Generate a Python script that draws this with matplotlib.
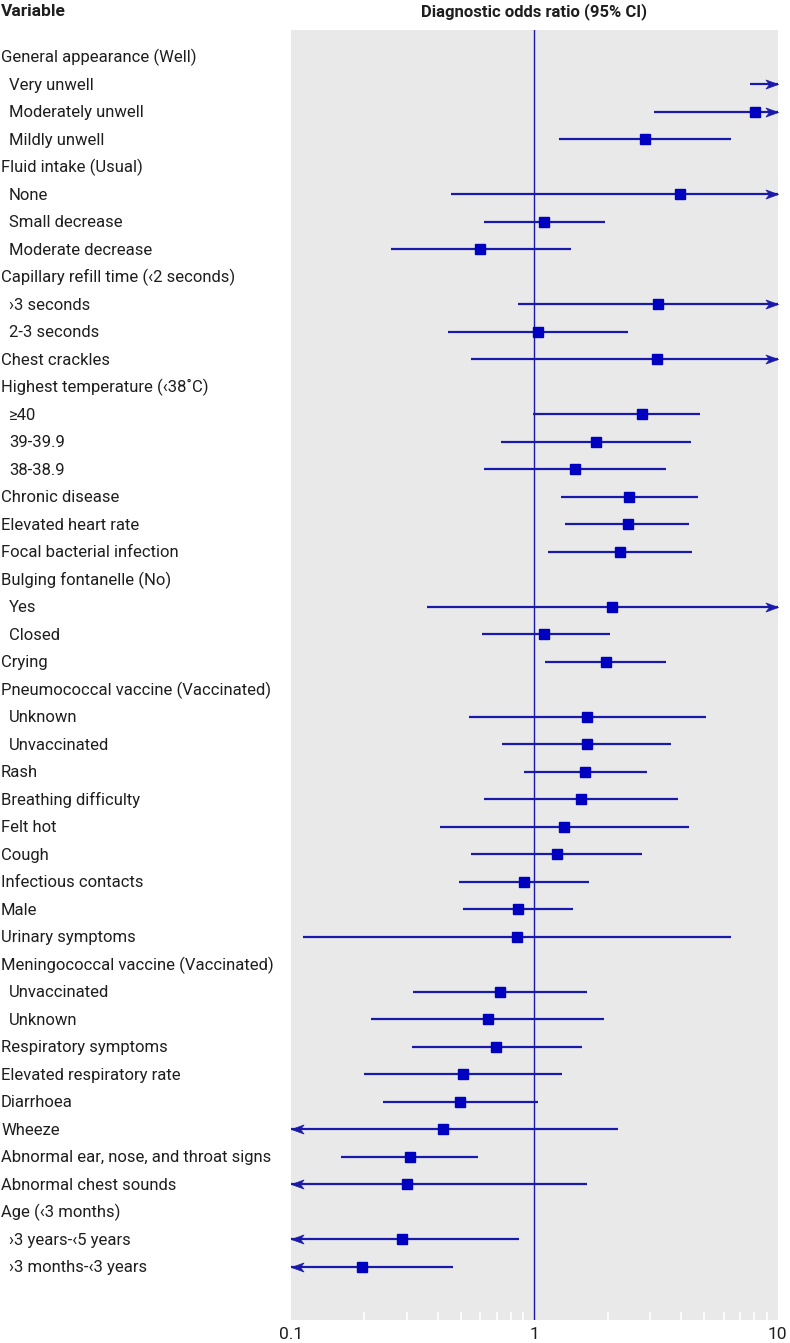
import numpy as np
import matplotlib
matplotlib.use("Agg")
from matplotlib import pyplot as plt
from matplotlib.path import Path
from matplotlib.transforms import blended_transform_factory

plt.rcParams['font.family'] = ['Roboto', 'DejaVu Sans']

# variable labels (leading spaces = sub level)
etiquetas = [
    "General appearance (Well)", " Very unwell", " Moderately unwell", " Mildly unwell",
    "Fluid intake (Usual)", " None", " Small decrease", " Moderate decrease",
    "Capillary refill time (‹2 seconds)", " ›3 seconds", " 2-3 seconds",
    "Chest crackles",
    "Highest temperature (‹38˚C)", " ≥40", " 39-39.9", " 38-38.9",
    "Chronic disease", "Elevated heart rate", "Focal bacterial infection",
    "Bulging fontanelle (No)", " Yes", " Closed",
    "Crying",
    "Pneumococcal vaccine (Vaccinated)", " Unknown", " Unvaccinated",
    "Rash", "Breathing difficulty", "Felt hot", "Cough", "Infectious contacts",
    "Male", "Urinary symptoms",
    "Meningococcal vaccine (Vaccinated)", " Unvaccinated", " Unknown",
    "Respiratory symptoms", "Elevated respiratory rate", "Diarrhoea", "Wheeze",
    "Abnormal ear, nose, and throat signs", "Abnormal chest sounds",
    "Age (‹3 months)", " ›3 years-‹5 years", " ›3 months-‹3 years",
]

nan = np.nan
# diagnostic odds ratio, lower and upper 95% CI (nan = header row)
odds = [nan, 15.0, 8.07, 2.85,
        nan, 3.98, 1.10, 0.60,
        nan, 3.21, 1.035,
        3.20,
        nan, 2.77, 1.79, 1.47,
        2.46, 2.42, 2.24,
        nan, 2.09, 1.10,
        1.97,
        nan, 1.65, 1.64,
        1.62, 1.56, 1.32, 1.24, 0.904,
        0.854, 0.847,
        nan, 0.722, 0.645,
        0.698, 0.509, 0.496, 0.422,
        0.307, 0.301,
        nan, 0.287, 0.195]
inferior = [nan, 7.72, 3.11, 1.26,
            nan, 0.453, 0.62, 0.257,
            nan, 0.853, 0.442,
            0.55,
            nan, 0.99, 0.73, 0.62,
            1.29, 1.34, 1.135,
            nan, 0.363, 0.611,
            1.11,
            nan, 0.54, 0.736,
            0.907, 0.62, 0.41, 0.549, 0.49,
            0.507, 0.112,
            nan, 0.318, 0.213,
            0.315, 0.20, 0.238, 0.06,
            0.161, 0.05,
            nan, 0.07, 0.05]
superior = [nan, 40.0, 20.0, 6.43,
            nan, 30.0, 1.96, 1.42,
            nan, 15.0, 2.42,
            18.0,
            nan, 4.78, 4.40, 3.46,
            4.69, 4.30, 4.44,
            nan, 12.0, 2.04,
            3.48,
            nan, 5.09, 3.64,
            2.90, 3.90, 4.32, 2.77, 1.67,
            1.44, 6.43,
            nan, 1.65, 1.93,
            1.57, 1.30, 1.04, 2.20,
            0.588, 1.64,
            nan, 0.867, 0.463]

azul = "#0000c0"
linea = "#1a1aaa"
texto = "#1e1e1e"
xmin, xmax = 0.1, 10

fig = plt.figure(figsize=(7.9, 13.43), dpi=100)
ax = fig.add_axes([291 / 790, 1 - 1320 / 1343, (777.7 - 291) / 790, (1320 - 30.3) / 1343])
ax.set_facecolor("#e9e9e9")
ax.set_xscale("log")
ax.set_xlim(xmin, xmax)
n = len(etiquetas)
ax.set_ylim(45.93, -0.97)

# arrow heads (tip at origin)
codigos = [Path.MOVETO, Path.LINETO, Path.LINETO, Path.LINETO, Path.CLOSEPOLY]
punta_der = Path([(0, 0), (-1, 0.36), (-0.72, 0), (-1, -0.36), (0, 0)], codigos)
punta_izq = Path([(0, 0), (1, 0.36), (0.72, 0), (1, -0.36), (0, 0)], codigos)

ax.axvline(1, color=linea, lw=1.0, zorder=2)

for i in range(n):
    if np.isnan(odds[i]):
        continue
    lo = max(inferior[i], xmin)
    hi = min(superior[i], xmax)
    ax.plot([lo, hi], [i, i], color=linea, lw=1.6, solid_capstyle="butt", zorder=3)
    ax.plot(odds[i], i, marker="s", ms=6.8, color=azul, mec=azul, zorder=4)
    if superior[i] > xmax:
        ax.plot(xmax, i, marker=punta_der, ms=18, color=linea, mec=linea, mew=0.5,
                clip_on=False, zorder=5)
    if inferior[i] < xmin:
        ax.plot(xmin, i, marker=punta_izq, ms=18, color=linea, mec=linea, mew=0.5,
                clip_on=False, zorder=5)

for s in ax.spines.values():
    s.set_visible(False)
ax.set_yticks([])
ax.set_xticks([0.1, 1, 10])
ax.set_xticklabels(["0.1", "1", "10"])
ax.tick_params(axis="x", which="major", length=0, pad=5, labelsize=12.5, labelcolor=texto)
ax.tick_params(axis="x", which="minor", direction="in", length=6, width=1.2, color="white")
ax.xaxis.set_minor_formatter(plt.NullFormatter())

trans = blended_transform_factory(fig.transFigure, ax.transData)
for i, t in enumerate(etiquetas):
    if t.startswith(" "):
        ax.text(9 / 790, i + 0.03, t.strip(), transform=trans, ha="left", va="center",
                fontsize=12, color=texto)
    else:
        ax.text(1 / 790, i + 0.03, t, transform=trans, ha="left", va="center",
                fontsize=12, color=texto)

fig.text(1 / 790, 1 - 12 / 1343, "Variable", ha="left", va="center",
         fontsize=12.5, fontweight="bold", color=texto)
fig.text((291 + 777.7) / 2 / 790, 1 - 12 / 1343, "Diagnostic odds ratio (95% CI)",
         ha="center", va="center", fontsize=12, fontweight="bold", color=texto)

plt.savefig("out.png", dpi=100)
plt.close()
